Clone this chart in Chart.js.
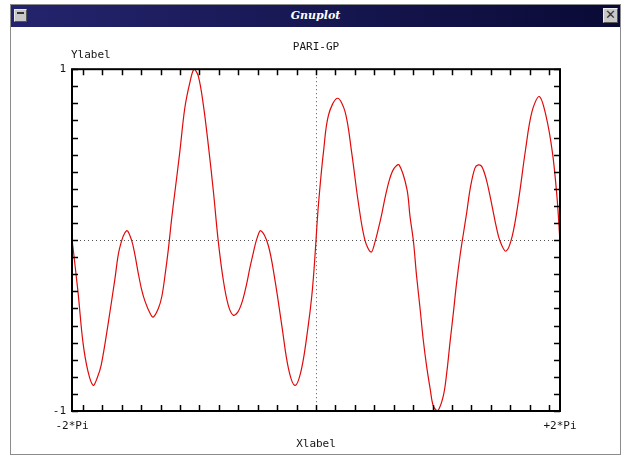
<!DOCTYPE html>
<html>
<head>
<meta charset="utf-8">
<script src="https://cdn.jsdelivr.net/npm/chart.js@4.4.1/dist/chart.umd.min.js"></script>
<style>
  body { margin: 0; background: #fff; width: 625px; height: 459px; overflow: hidden; position: relative; }
  #frame { position: absolute; left: 10px; top: 4px; width: 611px; height: 451px; border: 1px solid #8c8c8c; background: #fff; box-sizing: border-box; }
  #titlebar { position: absolute; left: 0; top: 0; width: 609px; height: 22px; background: linear-gradient(to right, #24246e, #0a0a36); }
  #titlebar span { position: absolute; left: 0; right: 0; top: 4px; text-align: center; color: #fff; font: italic bold 11px "DejaVu Serif", serif; }
  #menuicon { position: absolute; left: 3px; top: 4px; width: 13px; height: 13px; background: #c8c8c8; border: 1px solid #e8e8e8; border-right-color: #555; border-bottom-color: #555; box-sizing: border-box; }
  #menuicon div { position: absolute; left: 2px; top: 2px; width: 7px; height: 2px; background: #333; }
  #closeicon { position: absolute; right: 2px; top: 3px; width: 15px; height: 15px; background: #c8c8c8; border: 1px solid #eee; border-right-color: #555; border-bottom-color: #555; box-sizing: border-box; color: #333; font: 13px "DejaVu Sans", sans-serif; line-height: 12px; text-align: center; }
  #plot { position: absolute; left: 11px; top: 27px; }
</style>
</head>
<body>
<div id="frame">
  <div id="titlebar"><div id="menuicon"><div></div></div><span>Gnuplot</span><div id="closeicon">&#x2715;</div></div>
</div>
<canvas id="plot" width="610" height="428"></canvas>
<script>
// valores
const xValues = [-6.28, -6.13, -6.00, -5.87, -5.74, -5.64, -5.53, -5.36, -5.18, -5.06,
  -4.88, -4.75, -4.66, -4.58, -4.49, -4.40, -4.27, -4.19, -4.06, -3.97, -3.89, -3.80,
  -3.72, -3.64, -3.51, -3.38, -3.25, -3.14,
  -3.03, -2.90, -2.77, -2.64, -2.52, -2.39, -2.26, -2.13, -2.01, -1.90, -1.79, -1.70,
  -1.61, -1.52, -1.42, -1.23, -1.06, -0.88, -0.71, -0.54, -0.37, -0.20, -0.11, -0.05,
  0, 0.05, 0.11, 0.19, 0.32, 0.55, 0.75, 0.92, 1.09, 1.26, 1.42, 1.52, 1.61, 1.70,
  1.79, 1.90, 2.01, 2.14, 2.34, 2.42, 2.51, 2.59, 2.68, 2.76,
  2.85, 2.94, 3.02, 3.13, 3.28, 3.37, 3.45, 3.54, 3.62, 3.71, 3.79, 3.88, 3.97, 4.09,
  4.18, 4.27, 4.38, 4.47, 4.56, 4.64, 4.73, 4.89, 5.05, 5.22,
  5.39, 5.56, 5.75, 5.92, 6.09, 6.21, 6.28];
const yValues = [0, -0.30, -0.60, -0.77, -0.85, -0.81, -0.73, -0.50, -0.23, -0.05,
  0.055, 0, -0.09, -0.19, -0.29, -0.36, -0.43, -0.45, -0.40, -0.33, -0.21, -0.05,
  0.12, 0.27, 0.51, 0.77, 0.92, 1.0,
  0.96, 0.79, 0.55, 0.28, 0, -0.23, -0.38, -0.44, -0.42, -0.36, -0.26, -0.16,
  -0.07, 0.01, 0.055, -0.03, -0.23, -0.50, -0.75, -0.85, -0.75, -0.50, -0.33, -0.17,
  0, 0.17, 0.33, 0.51, 0.73, 0.83, 0.75, 0.51, 0.22, 0, -0.07, -0.01, 0.07, 0.16,
  0.26, 0.36, 0.42, 0.44, 0.30, 0.14, -0.01, -0.21, -0.40, -0.58,
  -0.74, -0.87, -0.97, -1.0, -0.91, -0.77, -0.60, -0.42, -0.25, -0.09, 0.03, 0.16, 0.30, 0.42,
  0.44, 0.43, 0.36, 0.27, 0.17, 0.08, 0, -0.065, 0.02, 0.24,
  0.52, 0.75, 0.84, 0.73, 0.51, 0.24, 0];

// etiquetas
const xTickLabels = ['-2*Pi', '+2*Pi'];
const yTickLabels = ['-1', '1'];
const xTickStep = 0.5;
const yTickStep = 0.1;

const textColor = '#151515';
Chart.defaults.font.family = '"DejaVu Sans Mono", monospace';
Chart.defaults.font.size = 11;
Chart.defaults.color = textColor;

// marco, marcas y ejes punteados al estilo gnuplot
const gnuplotFrame = {
  id: 'gnuplotFrame',
  beforeDatasetsDraw(chart) {
    const { ctx, chartArea: a, scales: { x, y } } = chart;
    ctx.save();
    ctx.strokeStyle = '#555';
    ctx.lineWidth = 1;
    ctx.setLineDash([1, 3]);
    const y0 = Math.round(y.getPixelForValue(0)) + 0.5;
    const x0 = Math.round(x.getPixelForValue(0)) + 0.5;
    ctx.beginPath();
    ctx.moveTo(a.left, y0); ctx.lineTo(a.right, y0);
    ctx.moveTo(x0, a.top); ctx.lineTo(x0, a.bottom);
    ctx.stroke();
    ctx.restore();
  },
  afterDatasetsDraw(chart) {
    const { ctx, chartArea: a, scales: { x, y } } = chart;
    ctx.save();
    ctx.strokeStyle = '#000';
    ctx.lineWidth = 1.5;
    ctx.beginPath();
    for (let v = Math.ceil(x.min / xTickStep) * xTickStep; v <= x.max; v += xTickStep) {
      const px = Math.round(x.getPixelForValue(v)) + 0.5;
      ctx.moveTo(px, a.bottom); ctx.lineTo(px, a.bottom - 6);
      ctx.moveTo(px, a.top); ctx.lineTo(px, a.top + 6);
    }
    for (let v = y.min; v <= y.max + 1e-9; v += yTickStep) {
      const py = Math.round(y.getPixelForValue(v)) + 0.5;
      ctx.moveTo(a.left, py); ctx.lineTo(a.left + 6, py);
      ctx.moveTo(a.right, py); ctx.lineTo(a.right - 6, py);
    }
    ctx.stroke();
    ctx.lineWidth = 2;
    ctx.strokeRect(a.left, a.top, a.right - a.left, a.bottom - a.top);
    // etiqueta del eje y, horizontal arriba
    ctx.fillStyle = textColor;
    ctx.font = '11px "DejaVu Sans Mono", monospace';
    ctx.textAlign = 'left';
    ctx.textBaseline = 'middle';
    ctx.fillText('Ylabel', a.left - 1, a.top - 14);
    ctx.restore();
  }
};

const ctx = document.getElementById('plot').getContext('2d');
const chart = new Chart(ctx, {
  type: 'line',
  data: {
    datasets: [{
      data: xValues.map((x, i) => ({ x, y: yValues[i] })),
      borderColor: '#e00a0a',
      borderWidth: 1.2,
      pointRadius: 0,
      tension: 0.35,
      fill: false,
    }],
  },
  options: {
    responsive: false,
    animation: false,
    layout: { padding: 0 },
    plugins: {
      legend: { display: false },
      tooltip: { enabled: false },
      title: {
        display: true,
        text: 'PARI-GP',
        color: textColor,
        font: { size: 11, weight: 'normal' },
        padding: { top: 14, bottom: 15 },
      },
    },
    scales: {
      x: {
        type: 'linear',
        min: -2 * Math.PI,
        max: 2 * Math.PI,
        grid: { display: false, drawTicks: false },
        border: { display: false },
        afterFit(s) { s.height = 44; },
        afterBuildTicks(s) { s.ticks = [{ value: -2 * Math.PI }, { value: 2 * Math.PI }]; },
        ticks: { autoSkip: false, maxRotation: 0, padding: 9, callback: (v, i) => xTickLabels[i] },
        title: { display: true, text: 'Xlabel', color: textColor, padding: { top: 0, bottom: 4 } },
      },
      y: {
        min: -1,
        max: 1,
        grid: { display: false, drawTicks: false },
        border: { display: false },
        afterFit(s) { s.width = 61; },
        afterBuildTicks(s) { s.ticks = [{ value: -1 }, { value: 1 }]; },
        ticks: { autoSkip: false, padding: 6, callback: (v, i) => yTickLabels[i] },
      },
      yRight: {
        position: 'right',
        min: -1,
        max: 1,
        grid: { display: false, drawTicks: false },
        border: { display: false },
        ticks: { display: false },
        afterFit(s) { s.width = 61; },
      },
    },
  },
  plugins: [gnuplotFrame],
});
</script>
</body>
</html>
